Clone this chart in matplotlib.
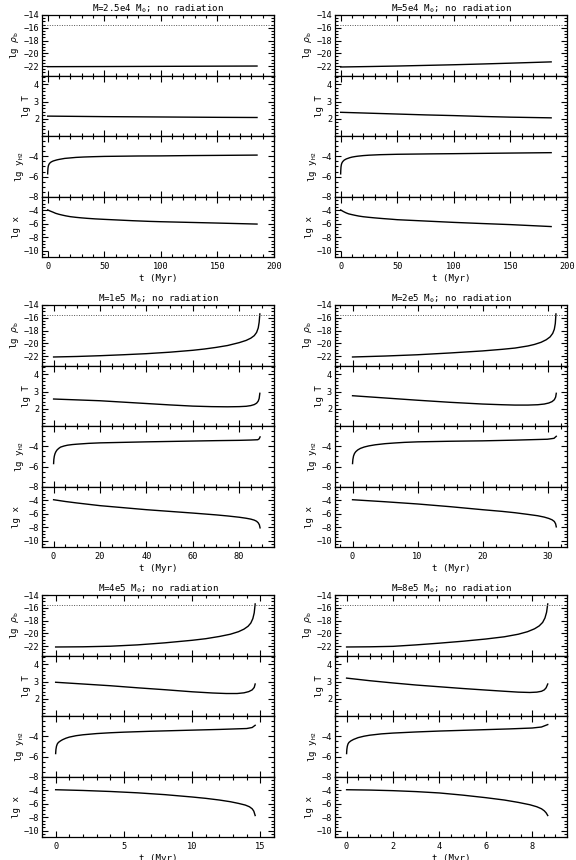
import matplotlib
matplotlib.use('Agg')
import matplotlib.pyplot as plt
from matplotlib.ticker import MultipleLocator, FixedLocator

plt.rcParams['font.family'] = ['DejaVu Sans Mono', 'DejaVu Sans']
plt.rcParams['mathtext.fontset'] = 'custom'
plt.rcParams['mathtext.rm'] = 'DejaVu Sans Mono'
plt.rcParams['mathtext.it'] = 'DejaVu Sans:italic'

# ---------------- data ----------------
titles = ['M=2.5e4 M$_{\\odot}$; no radiation', 'M=5e4 M$_{\\odot}$; no radiation',
          'M=1e5 M$_{\\odot}$; no radiation', 'M=2e5 M$_{\\odot}$; no radiation',
          'M=4e5 M$_{\\odot}$; no radiation', 'M=8e5 M$_{\\odot}$; no radiation']
xlabel = 't (Myr)'
ylabels = ['lg $\\rho_{\\rm b}$', 'lg T', 'lg y$_{\\rm H2}$', 'lg x']

# panel 1: M=2.5e4
t1_rho = [0, 50, 100, 150, 185]
rho1 = [-22.1, -22.08, -22.05, -22.02, -22.0]
t1_T = [0, 50, 100, 150, 185]
T1 = [2.16, 2.13, 2.11, 2.09, 2.08]
t1_y = [0, 0.1, 0.3, 0.6, 1, 1.5, 2.2, 3, 4, 5, 6.5, 8, 10, 12.5, 15, 20, 25, 32, 40, 50, 65, 80, 100, 125, 150, 185]
y1 = [-5.73, -5.45, -5.15, -4.95, -4.82, -4.72, -4.63, -4.56, -4.5, -4.45, -4.4, -4.35, -4.3, -4.25, -4.2, -4.15, -4.1, -4.06, -4.03, -4.0, -3.98, -3.96, -3.95, -3.92, -3.9, -3.87]
t1_x = [0, 1, 2, 3.5, 5, 7, 10, 13, 16, 20, 25, 30, 35, 42, 50, 60, 75, 90, 100, 125, 150, 185]
x1 = [-3.95, -4.02, -4.1, -4.2, -4.3, -4.45, -4.6, -4.72, -4.83, -4.95, -5.05, -5.13, -5.2, -5.28, -5.35, -5.43, -5.55, -5.65, -5.7, -5.8, -5.9, -6.05]

# panel 2: M=5e4
t2_rho = [0, 25, 50, 75, 100, 125, 150, 186]
rho2 = [-22.15, -22.08, -22.0, -21.9, -21.8, -21.68, -21.55, -21.35]
t2_T = [0, 25, 50, 75, 100, 125, 150, 186]
T2 = [2.38, 2.33, 2.28, 2.23, 2.19, 2.14, 2.1, 2.06]
t2_y = [0, 0.1, 0.3, 0.6, 1, 1.5, 2.2, 3, 4, 5, 6.5, 8, 10, 12.5, 15, 20, 25, 35, 50, 65, 80, 100, 125, 150, 186]
y2 = [-5.73, -5.4, -5.05, -4.83, -4.68, -4.57, -4.47, -4.38, -4.31, -4.25, -4.19, -4.13, -4.07, -4.02, -3.98, -3.92, -3.88, -3.83, -3.79, -3.77, -3.75, -3.73, -3.7, -3.67, -3.63]
t2_x = [0, 1, 2, 3.5, 5, 7, 10, 13, 16, 20, 25, 30, 37, 45, 50, 60, 75, 90, 100, 125, 150, 186]
x2 = [-3.95, -4.05, -4.15, -4.28, -4.4, -4.53, -4.65, -4.76, -4.86, -4.96, -5.05, -5.13, -5.23, -5.33, -5.4, -5.48, -5.6, -5.72, -5.8, -5.97, -6.13, -6.42]

# panel 3: M=1e5
t3_rho = [0, 10, 20, 30, 40, 50, 60, 65, 70, 75, 80, 83, 85, 86.5, 87.5, 88.2, 88.6, 88.9]
rho3 = [-22.15, -22.07, -21.95, -21.8, -21.63, -21.4, -21.1, -20.9, -20.65, -20.35, -19.9, -19.55, -19.2, -18.8, -18.3, -17.6, -16.7, -15.4]
t3_T = [0, 10, 20, 30, 40, 50, 60, 68, 75, 80, 83, 85, 86.5, 87.5, 88.2, 88.6, 88.9]
T3 = [2.57, 2.52, 2.47, 2.39, 2.31, 2.23, 2.16, 2.13, 2.12, 2.13, 2.15, 2.19, 2.25, 2.33, 2.45, 2.6, 2.9]
t3_y = [0, 0.1, 0.3, 0.6, 1, 1.5, 2.2, 3, 4.5, 6, 8, 10, 15, 20, 30, 40, 50, 60, 70, 80, 85, 88, 88.6, 89]
y3 = [-5.7, -5.3, -4.98, -4.72, -4.52, -4.35, -4.2, -4.07, -3.96, -3.88, -3.82, -3.78, -3.7, -3.65, -3.6, -3.55, -3.51, -3.47, -3.43, -3.4, -3.37, -3.34, -3.25, -3.06]
t3_x = [0, 5, 10, 15, 20, 30, 40, 50, 60, 70, 75, 80, 83, 85, 86.5, 87.5, 88.2, 88.7, 89]
x3 = [-3.92, -4.18, -4.4, -4.6, -4.8, -5.1, -5.4, -5.65, -5.9, -6.17, -6.33, -6.52, -6.67, -6.8, -6.95, -7.12, -7.35, -7.65, -8.1]

# panel 4: M=2e5
t4_rho = [0, 5, 10, 15, 20, 23, 25, 27, 28, 29, 29.8, 30.4, 30.8, 31.05, 31.2, 31.3]
rho4 = [-22.15, -22.0, -21.8, -21.52, -21.2, -20.95, -20.75, -20.42, -20.18, -19.85, -19.45, -19.0, -18.45, -17.8, -16.9, -15.4]
t4_T = [0, 5, 10, 15, 20, 23, 25, 27, 28.5, 29.5, 30.2, 30.7, 31.05, 31.25, 31.35]
T4 = [2.76, 2.63, 2.5, 2.38, 2.28, 2.24, 2.22, 2.22, 2.24, 2.28, 2.34, 2.42, 2.53, 2.68, 2.9]
t4_y = [0, 0.05, 0.15, 0.3, 0.5, 0.8, 1.2, 1.8, 2.5, 3.5, 5, 6.5, 8, 10, 15, 20, 25, 30, 31, 31.35]
y4 = [-5.7, -5.3, -4.95, -4.7, -4.52, -4.35, -4.2, -4.06, -3.95, -3.84, -3.73, -3.66, -3.6, -3.55, -3.49, -3.45, -3.38, -3.29, -3.2, -3.0]
t4_x = [0, 5, 10, 15, 20, 23, 25, 27, 28.5, 29.5, 30.2, 30.7, 31.05, 31.25, 31.35]
x4 = [-3.92, -4.22, -4.55, -4.95, -5.4, -5.65, -5.85, -6.1, -6.3, -6.5, -6.7, -6.9, -7.15, -7.5, -7.95]

# panel 5: M=4e5
t5_rho = [0, 2, 4, 6, 8, 10, 11, 12, 12.8, 13.4, 13.8, 14.1, 14.3, 14.45, 14.55, 14.62]
rho5 = [-22.15, -22.12, -22.03, -21.82, -21.5, -21.1, -20.85, -20.5, -20.15, -19.75, -19.35, -18.9, -18.4, -17.7, -16.8, -15.4]
t5_T = [0, 2, 4, 6, 8, 10, 11.5, 12.5, 13.3, 13.8, 14.15, 14.4, 14.55, 14.62]
T5 = [2.96, 2.86, 2.76, 2.64, 2.53, 2.41, 2.34, 2.31, 2.31, 2.35, 2.42, 2.52, 2.66, 2.86]
t5_y = [0, 0.02, 0.06, 0.12, 0.2, 0.35, 0.5, 0.75, 1, 1.5, 2, 3, 4, 5, 7, 10, 12, 14, 14.4, 14.62]
y5 = [-5.7, -5.3, -4.98, -4.75, -4.6, -4.45, -4.33, -4.18, -4.07, -3.93, -3.84, -3.72, -3.64, -3.58, -3.49, -3.38, -3.31, -3.22, -3.12, -2.9]
t5_x = [0, 2, 4, 6, 8, 10, 11, 12, 12.8, 13.4, 13.9, 14.2, 14.4, 14.52, 14.62]
x5 = [-3.92, -4.03, -4.18, -4.38, -4.65, -5.0, -5.2, -5.45, -5.7, -5.95, -6.2, -6.45, -6.75, -7.1, -7.75]

# panel 6: M=8e5
t6_rho = [0, 1, 2, 3, 4, 5, 6, 6.8, 7.4, 7.8, 8.1, 8.3, 8.45, 8.55, 8.62, 8.67]
rho6 = [-22.15, -22.12, -22.05, -21.82, -21.55, -21.25, -20.9, -20.55, -20.15, -19.75, -19.3, -18.85, -18.3, -17.6, -16.7, -15.4]
t6_T = [0, 1, 2, 3, 4, 5, 6, 6.8, 7.4, 7.9, 8.2, 8.4, 8.52, 8.6, 8.67]
T6 = [3.2, 3.05, 2.92, 2.8, 2.7, 2.6, 2.51, 2.44, 2.39, 2.37, 2.39, 2.44, 2.52, 2.64, 2.86]
t6_y = [0, 0.01, 0.03, 0.06, 0.1, 0.18, 0.3, 0.5, 0.75, 1, 1.5, 2, 3, 4, 5, 6, 7, 8, 8.4, 8.67]
y6 = [-5.7, -5.3, -4.98, -4.75, -4.6, -4.45, -4.3, -4.12, -3.98, -3.88, -3.75, -3.67, -3.56, -3.47, -3.4, -3.33, -3.26, -3.17, -3.07, -2.83]
t6_x = [0, 1, 2, 3, 4, 5, 6, 6.8, 7.4, 7.9, 8.2, 8.4, 8.52, 8.6, 8.67]
x6 = [-3.92, -3.97, -4.06, -4.2, -4.4, -4.72, -5.1, -5.45, -5.8, -6.15, -6.45, -6.75, -7.05, -7.35, -7.75]

rho_threshold = -15.6

x_ranges = [(-5, 200), (-5, 200), (-5, 95), (-2.7, 33), (-1, 16), (-0.5, 9.5)]
x_major = [50, 50, 20, 10, 5, 2]
x_minor = [10, 10, 5, 2, 1, 0.5]

y_ranges = [(-23.5, -14), (1, 4.5), (-8, -2), (-11, -2)]
y_ticks = [[-14, -16, -18, -20, -22], [2, 3, 4], [-4, -6, -8], [-4, -6, -8, -10]]
y_minor = [0.5, 0.2, 0.5, 0.5]

panels = [
    [(t1_rho, rho1), (t1_T, T1), (t1_y, y1), (t1_x, x1)],
    [(t2_rho, rho2), (t2_T, T2), (t2_y, y2), (t2_x, x2)],
    [(t3_rho, rho3), (t3_T, T3), (t3_y, y3), (t3_x, x3)],
    [(t4_rho, rho4), (t4_T, T4), (t4_y, y4), (t4_x, x4)],
    [(t5_rho, rho5), (t5_T, T5), (t5_y, y5), (t5_x, x5)],
    [(t6_rho, rho6), (t6_T, T6), (t6_y, y6), (t6_x, x6)],
]

# ---------------- figure ----------------
W, H = 576, 860
fig = plt.figure(figsize=(W / 100, H / 100), dpi=100)

col_left = [42, 335]
ax_w = 232
row_top = [15, 305, 595]
sub_h = 60.6

FS = 6.2
for p in range(6):
    r, c = divmod(p, 2)
    for k in range(4):
        top = row_top[r] + k * sub_h
        ax = fig.add_axes([col_left[c] / W, 1 - (top + sub_h) / H, ax_w / W, sub_h / H])
        tt, vv = panels[p][k]
        ax.plot(tt, vv, color='black', lw=1.0, solid_joinstyle='round')
        if k == 0:
            ax.axhline(rho_threshold, color='#555555', lw=0.7, ls=(0, (1, 1.5)))
            ax.set_title(titles[p], fontsize=FS + 0.4, pad=2)
        ax.set_xlim(*x_ranges[p])
        ax.set_ylim(*y_ranges[k])
        ax.xaxis.set_major_locator(MultipleLocator(x_major[p]))
        ax.xaxis.set_minor_locator(MultipleLocator(x_minor[p]))
        ax.yaxis.set_major_locator(FixedLocator(y_ticks[k]))
        ax.yaxis.set_minor_locator(MultipleLocator(y_minor[k]))
        ax.tick_params(which='both', direction='in', top=True, right=True,
                       width=0.8, labelsize=FS, pad=2)
        ax.tick_params(axis='x', pad=3.5)
        ax.tick_params(which='major', length=4.2)
        ax.tick_params(which='minor', length=2.2)
        for s in ax.spines.values():
            s.set_linewidth(0.9)
        ax.set_ylabel(ylabels[k], fontsize=FS + 0.4, labelpad=2)
        if k < 3:
            ax.tick_params(labelbottom=False)
        else:
            ax.set_xlabel(xlabel, fontsize=FS + 0.4, labelpad=2)

fig.savefig('out.png', dpi=100)
